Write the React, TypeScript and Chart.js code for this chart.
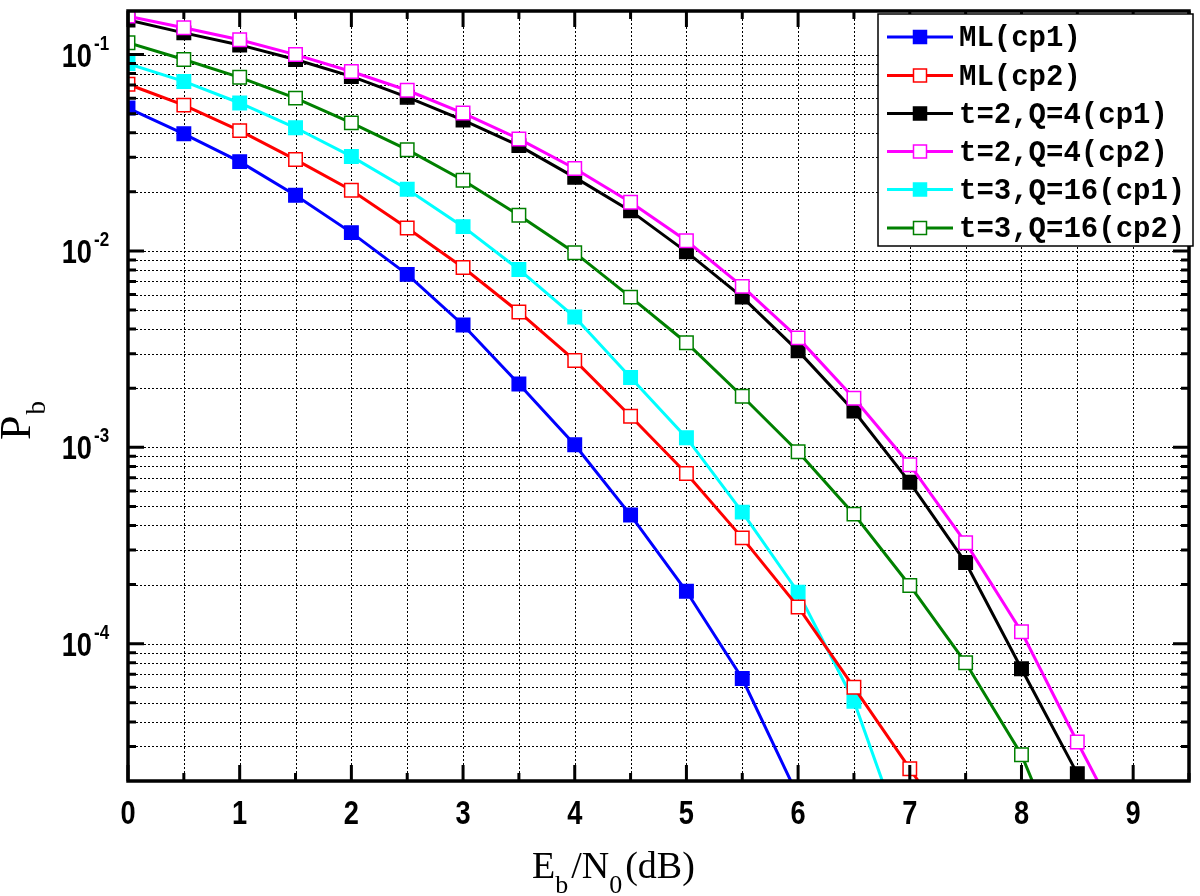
import React, { useEffect, useRef } from "react";
import { Chart, registerables } from "chart.js";

Chart.register(...registerables);

// ---- data ----
const ebN0 = [0, 0.5, 1, 1.5, 2, 2.5, 3, 3.5, 4, 4.5, 5, 5.5, 6, 6.5, 7, 7.5, 8, 8.5, 9];

const mlCp1 = [0.0534, 0.0395, 0.0285, 0.0192, 0.0124, 0.0076, 0.0042, 0.0021, 0.00103, 0.000452, 0.000185, 0.0000665, 0.0000167];
const mlCp2 = [0.0706, 0.0553, 0.041, 0.0292, 0.0204, 0.0131, 0.00824, 0.00489, 0.00277, 0.00144, 0.000736, 0.000346, 0.000154, 0.00006, 0.0000231, 0.0000089];
const t2q4Cp1 = [0.15, 0.129, 0.112, 0.0944, 0.0774, 0.0607, 0.0464, 0.0344, 0.0237, 0.016, 0.0099, 0.00582, 0.0031, 0.00153, 0.000664, 0.000259, 0.0000746, 0.0000218];
const t2q4Cp2 = [0.157, 0.137, 0.119, 0.1, 0.082, 0.0658, 0.0504, 0.0372, 0.0263, 0.0177, 0.01127, 0.0066, 0.00361, 0.00178, 0.000816, 0.000327, 0.000115, 0.0000316, 0.000009];
const t3q16Cp1 = [0.09, 0.073, 0.0567, 0.0424, 0.0303, 0.0206, 0.0133, 0.00805, 0.00461, 0.00227, 0.00112, 0.000468, 0.000183, 0.000051, 0.0000081];
const t3q16Cp2 = [0.115, 0.0944, 0.0766, 0.06, 0.0449, 0.0328, 0.0229, 0.0152, 0.0098, 0.00582, 0.00341, 0.00182, 0.00095, 0.000457, 0.000198, 0.00008, 0.0000272, 0.0000056];

const seriesLabels = ["ML(cp1)", "ML(cp2)", "t=2,Q=4(cp1)", "t=2,Q=4(cp2)", "t=3,Q=16(cp1)", "t=3,Q=16(cp2)"];
const seriesValues = [mlCp1, mlCp2, t2q4Cp1, t2q4Cp2, t3q16Cp1, t3q16Cp2];
const seriesColors = ["#0000ff", "#ff0000", "#000000", "#ff00ff", "#00ffff", "#008000"];
const seriesFilled = [true, false, true, false, true, false];

const xTickValues = [0, 1, 2, 3, 4, 5, 6, 7, 8, 9];
const xTickLabels = ["0", "1", "2", "3", "4", "5", "6", "7", "8", "9"];
const yTickValues = [1e-1, 1e-2, 1e-3, 1e-4];
const yTickExponents = ["-1", "-2", "-3", "-4"];

const X_MIN = 0;
const X_MAX = 9.5;
const Y_MIN = 2e-5;
const Y_MAX = 0.1667;

const decorPlugin = {
  id: "decor",
  beforeDraw(chart: any) {
    const ctx = chart.ctx;
    ctx.save();
    ctx.fillStyle = "#ffffff";
    ctx.fillRect(0, 0, chart.width, chart.height);
    ctx.restore();
  },
  beforeDatasetsDraw(chart: any) {
    const ctx = chart.ctx;
    const a = chart.chartArea;
    const xs = chart.scales.x;
    const ys = chart.scales.y;
    ctx.save();
    ctx.strokeStyle = "#000";
    ctx.lineWidth = 1;
    ctx.setLineDash([2, 2]);
    for (let i = 1; i * 0.5 < X_MAX; i++) {
      const px = Math.round(xs.getPixelForValue(i * 0.5)) + 0.5;
      ctx.beginPath();
      ctx.moveTo(px, a.top);
      ctx.lineTo(px, a.bottom);
      ctx.stroke();
    }
    for (let n = -5; n <= 0; n++) {
      for (let k = 1; k <= 9; k++) {
        const v = k * Math.pow(10, n);
        if (v <= Y_MIN || v >= Y_MAX) continue;
        const py = Math.round(ys.getPixelForValue(v)) + 0.5;
        ctx.beginPath();
        ctx.moveTo(a.left, py);
        ctx.lineTo(a.right, py);
        ctx.stroke();
      }
    }
    ctx.restore();
  },
  afterDatasetsDraw(chart: any) {
    const ctx = chart.ctx;
    const a = chart.chartArea;
    const xs = chart.scales.x;
    const ys = chart.scales.y;
    ctx.save();
    ctx.setLineDash([]);
    ctx.strokeStyle = "#000";
    // ticks
    ctx.lineWidth = 3;
    for (let i = 0; i * 0.5 <= X_MAX; i++) {
      const v = i * 0.5;
      const px = xs.getPixelForValue(v);
      const len = i % 2 === 0 ? 16 : 8;
      ctx.beginPath();
      ctx.moveTo(px, a.bottom);
      ctx.lineTo(px, a.bottom - len);
      ctx.moveTo(px, a.top);
      ctx.lineTo(px, a.top + len);
      ctx.stroke();
    }
    for (let n = -5; n <= 0; n++) {
      for (let k = 1; k <= 9; k++) {
        const v = k * Math.pow(10, n);
        if (v <= Y_MIN || v >= Y_MAX) continue;
        const py = ys.getPixelForValue(v);
        const len = k === 1 ? 16 : 8;
        ctx.beginPath();
        ctx.moveTo(a.left, py);
        ctx.lineTo(a.left + len, py);
        ctx.moveTo(a.right, py);
        ctx.lineTo(a.right - len, py);
        ctx.stroke();
      }
    }
    // frame
    ctx.lineWidth = 3.5;
    ctx.strokeRect(a.left, a.top, a.right - a.left, a.bottom - a.top);

    // x tick labels
    ctx.fillStyle = "#000";
    ctx.textBaseline = "alphabetic";
    ctx.textAlign = "center";
    ctx.font = "bold 34px 'Liberation Sans', Arial, sans-serif";
    xTickValues.forEach((v, i) => {
      const px = xs.getPixelForValue(v);
      ctx.save();
      ctx.translate(px, a.bottom + 43);
      ctx.scale(0.8, 1);
      ctx.fillText(xTickLabels[i], 0, 0);
      ctx.restore();
    });
    // y tick labels 10^n
    yTickValues.forEach((v, i) => {
      const py = ys.getPixelForValue(v);
      ctx.save();
      ctx.translate(92, py + 12);
      ctx.scale(0.8, 1);
      ctx.textAlign = "right";
      ctx.font = "bold 34px 'Liberation Sans', Arial, sans-serif";
      ctx.fillText("10", 0, 0);
      ctx.restore();
      ctx.save();
      ctx.translate(94, py - 5);
      ctx.scale(0.85, 1);
      ctx.textAlign = "left";
      ctx.font = "bold 20px 'Liberation Sans', Arial, sans-serif";
      ctx.fillText(yTickExponents[i], 0, 0);
      ctx.restore();
    });

    // x title: E_b/N_0(dB)
    const mainFont = "38px 'Liberation Serif', 'Times New Roman', serif";
    const subFont = "26px 'Liberation Serif', 'Times New Roman', serif";
    const parts: [string, boolean][] = [["E", false], ["b", true], ["/N", false], ["0", true], ["(dB)", false]];
    let x = 532;
    const base = 878;
    ctx.textAlign = "left";
    parts.forEach(([t, sub]) => {
      ctx.font = sub ? subFont : mainFont;
      ctx.fillText(t, x, sub ? base + 15 : base);
      x += ctx.measureText(t).width + (sub ? 3 : 0);
    });

    // y title: P_b rotated
    ctx.save();
    ctx.translate(30, 440);
    ctx.rotate(-Math.PI / 2);
    ctx.font = "44px 'Liberation Serif', 'Times New Roman', serif";
    ctx.fillText("P", 0, 0);
    const pw = ctx.measureText("P").width;
    ctx.font = "27px 'Liberation Serif', 'Times New Roman', serif";
    ctx.fillText("b", pw + 1, 15);
    ctx.restore();

    // legend
    const lx = 878, ly = 14, lw = 315, lh = 232;
    ctx.fillStyle = "#fff";
    ctx.fillRect(lx, ly, lw, lh);
    ctx.lineWidth = 1.5;
    ctx.strokeStyle = "#000";
    ctx.strokeRect(lx, ly, lw, lh);
    const rowY = [37, 75.5, 113.5, 151.5, 189.5, 228];
    chart.data.datasets.forEach((ds: any, i: number) => {
      const y = rowY[i];
      ctx.strokeStyle = ds.borderColor;
      ctx.lineWidth = 3;
      ctx.beginPath();
      ctx.moveTo(887, y);
      ctx.lineTo(953, y);
      ctx.stroke();
      const s = 13;
      ctx.fillStyle = ds.pointBackgroundColor;
      ctx.fillRect(920 - s / 2, y - s / 2, s, s);
      ctx.lineWidth = 1.5;
      ctx.strokeRect(920 - s / 2, y - s / 2, s, s);
      ctx.fillStyle = "#000";
      ctx.font = "bold 29px 'Liberation Mono', 'Courier New', monospace";
      ctx.textBaseline = "middle";
      ctx.fillText(ds.label, 959, y + 2);
      ctx.textBaseline = "alphabetic";
    });
    ctx.restore();
  },
};

export default function App() {
  const ref = useRef<HTMLCanvasElement | null>(null);
  useEffect(() => {
    if (!ref.current) return;
    const datasets = seriesValues.map((vals, i) => ({
      label: seriesLabels[i],
      data: vals.map((y, j) => ({ x: ebN0[j], y })),
      borderColor: seriesColors[i],
      backgroundColor: seriesColors[i],
      pointBackgroundColor: seriesFilled[i] ? seriesColors[i] : "#ffffff",
      pointBorderColor: seriesColors[i],
      pointBorderWidth: 1.5,
      pointStyle: "rect",
      pointRadius: 9.5,
      borderWidth: 3,
      tension: 0,
      clip: 0,
      order: i === 2 ? 1 : 0,
    }));
    const chart = new Chart(ref.current, {
      type: "line",
      data: { datasets },
      options: {
        animation: false,
        responsive: false,
        events: [],
        layout: { padding: { top: 3, right: 3, left: 0, bottom: 0 } },
        plugins: { legend: { display: false }, tooltip: { enabled: false } },
        scales: {
          x: {
            type: "linear",
            min: X_MIN,
            max: X_MAX,
            grid: { display: false },
            border: { display: false },
            ticks: { display: false },
            afterFit: (s: any) => {
              s.height = 115;
            },
          },
          y: {
            type: "logarithmic",
            min: Y_MIN,
            max: Y_MAX,
            grid: { display: false },
            border: { display: false },
            ticks: { display: false },
            afterFit: (s: any) => {
              s.width = 128;
            },
          },
        },
      },
      plugins: [decorPlugin],
    } as any);
    return () => chart.destroy();
  }, []);
  return (
    <div style={{ position: "absolute", left: 0, top: 0, width: 1200, height: 896 }}>
      <canvas ref={ref} width={1200} height={896} style={{ display: "block" }} />
    </div>
  );
}
